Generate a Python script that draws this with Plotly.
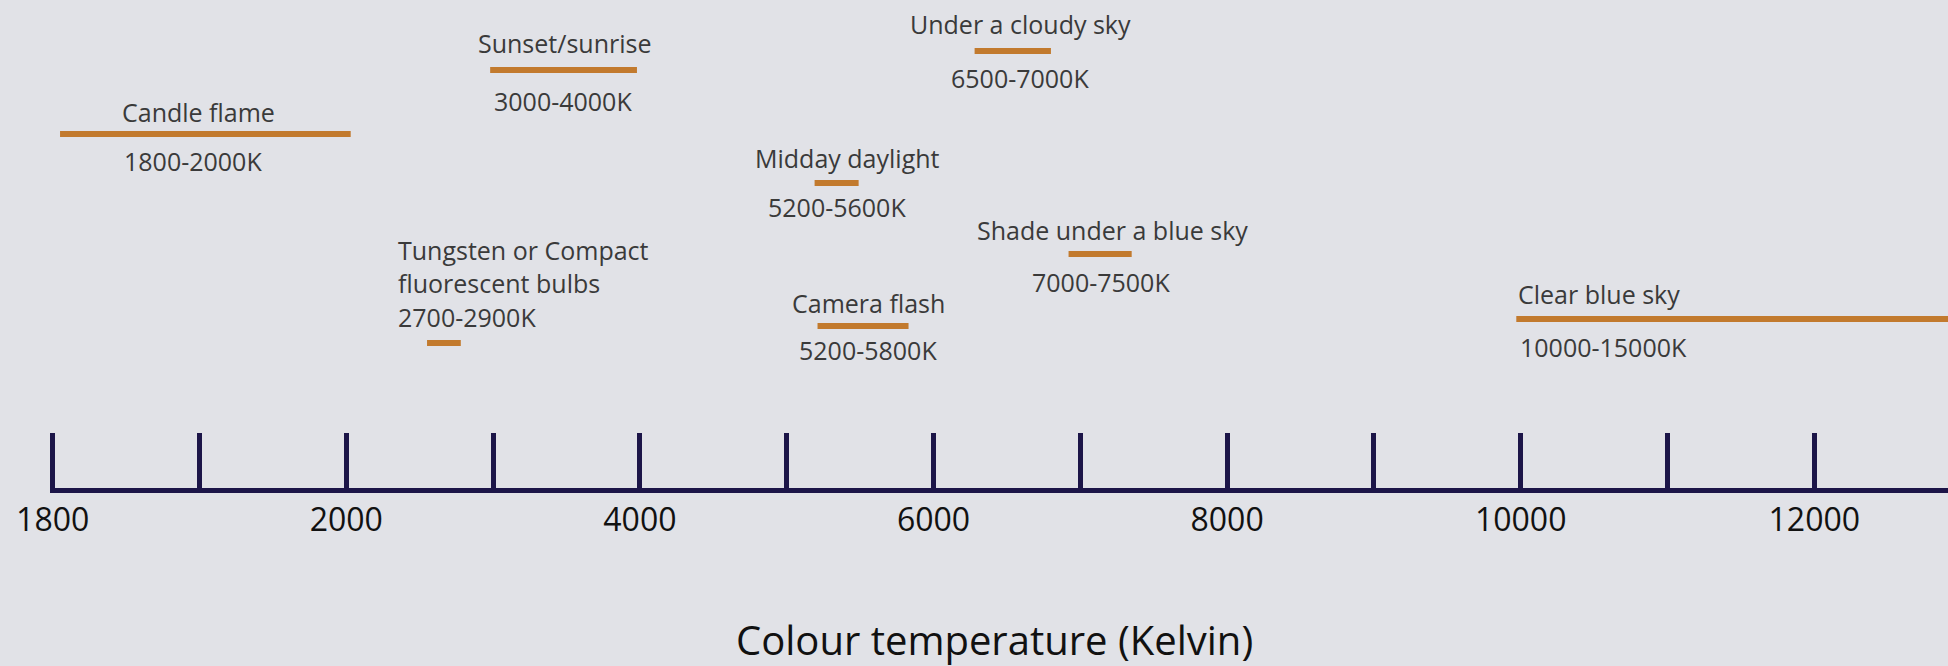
import numpy as np
import plotly.graph_objects as go

# ---------------- data ----------------
# axis scale: evenly spaced ticks carrying these Kelvin values
tick_kelvin = [1800, 1900, 2000, 3000, 4000, 5000, 6000, 7000, 8000, 9000,
               10000, 11000, 12000, 13000, 14000, 15000]
tick_labels = ["1800", "", "2000", "", "4000", "", "6000", "", "8000", "",
               "10000", "", "12000", "", "", ""]

sources = ["Candle flame", "Sunset/sunrise",
           "Tungsten or Compact<br>fluorescent bulbs", "Midday daylight",
           "Camera flash", "Under a cloudy sky", "Shade under a blue sky",
           "Clear blue sky"]
range_labels = ["1800-2000K", "3000-4000K", "2700-2900K", "5200-5600K",
                "5200-5800K", "6500-7000K", "7000-7500K", "10000-15000K"]
# bar extents as drawn in the picture (Kelvin)
kelvin_low = [1805, 2980, 2550, 5190, 5210, 6280, 6920, 9970]
kelvin_high = [2030, 3980, 2780, 5490, 5830, 6800, 7350, 15000]

# ---------------- layout (pixels) ----------------
W, H = 1948, 666
AXIS_Y = 488
TICK0_PX, TICK_STEP_PX = 52.7, 146.8
bar_row_y = [134, 70, 343, 183, 326, 51, 254, 319]
name_pos = [(198, 112, "center"), (564, 43, "center"), (396, 266, "left"),
            (847, 158, "center"), (868, 303, "center"), (1020, 24, "center"),
            (1112, 230, "center"), (1516, 294, "left")]
range_pos = [(193, 161, "center"), (563, 101, "center"), (396, 317, "left"),
             (837, 207, "center"), (868, 350, "center"), (1020, 78, "center"),
             (1101, 282, "center"), (1518, 347, "left")]
TITLE_PX = (994, 639)

BG = "#e1e2e7"
BAR = "#c27a2e"
AXIS = "#1c1548"
TXT = "#3a3a3a"
FONT = "Open Sans"

tick_index = np.arange(len(tick_kelvin), dtype=float)


def k2x(k):
    return float(np.interp(k, tick_kelvin, tick_index))


def px2x(px):
    return (px - TICK0_PX) / TICK_STEP_PX


xs, ys = [], []
for lo, hi, yy in zip(kelvin_low, kelvin_high, bar_row_y):
    xs += [k2x(lo), k2x(hi), None]
    ys += [yy, yy, None]

fig = go.Figure()
fig.add_trace(go.Scatter(x=xs, y=ys, mode="lines",
                         line=dict(color=BAR, width=6),
                         hoverinfo="skip", showlegend=False))

ann = []
for name, rng, (nx, ny, na), (rx, ry, ra) in zip(sources, range_labels, name_pos, range_pos):
    ann.append(dict(x=px2x(nx), y=ny, xref="x", yref="y", text=name,
                    showarrow=False, xanchor=na, yanchor="middle", align="left",
                    font=dict(family=FONT, size=25, color=TXT)))
    ann.append(dict(x=px2x(rx), y=ry, xref="x", yref="y", text=rng,
                    showarrow=False, xanchor=ra, yanchor="middle", align="left",
                    font=dict(family=FONT, size=25, color=TXT)))

ann.append(dict(x=px2x(TITLE_PX[0]), y=(AXIS_Y - TITLE_PX[1]) / AXIS_Y,
                xref="x", yref="paper",
                text="Colour temperature (Kelvin)", showarrow=False,
                xanchor="center", yanchor="middle",
                font=dict(family=FONT, size=40, color="#111111")))

fig.update_layout(
    width=W, height=H,
    margin=dict(l=50, r=0, t=0, b=H - AXIS_Y),
    paper_bgcolor=BG, plot_bgcolor=BG,
    annotations=ann,
    xaxis=dict(range=[px2x(50), px2x(W)], tickvals=list(tick_index),
               ticktext=tick_labels, ticks="inside", ticklen=55,
               tickwidth=4.5, tickcolor=AXIS, showline=True, linewidth=5,
               linecolor=AXIS, showgrid=False, zeroline=False,
               ticklabelstandoff=0,
               tickfont=dict(family=FONT, size=32, color="#111111")),
    yaxis=dict(range=[AXIS_Y, 0], visible=False, showgrid=False, zeroline=False),
)

fig.write_html("out.html", config={"displayModeBar": False},
               post_script="document.body.style.margin='0';document.body.style.overflow='hidden';")
